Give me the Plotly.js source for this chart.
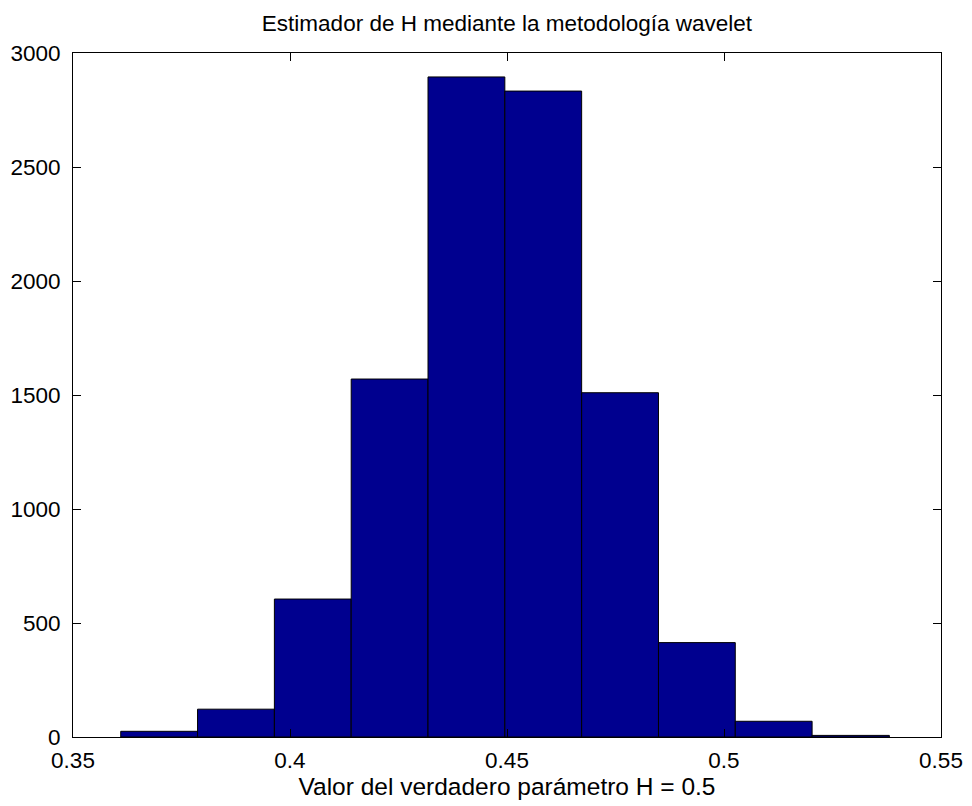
<!DOCTYPE html>
<html>
<head>
<meta charset="utf-8">
<script src="https://cdn.plot.ly/plotly-3.0.1.min.js"></script>
<style>html,body{margin:0;padding:0;background:#fff;}#chart{width:972px;height:806px;}</style>
</head>
<body>
<div id="chart"></div>
<script>
// Bin edges and counts per bin
const binEdges = [0.3610, 0.3787, 0.3964, 0.4141, 0.4318, 0.4495, 0.4672, 0.4849, 0.5026, 0.5203, 0.5381];
const counts = [25, 122, 605, 1570, 2895, 2833, 1510, 414, 69, 7];
const xTicks = [0.35, 0.4, 0.45, 0.5, 0.55];
const xTickLabels = ['0.35', '0.4', '0.45', '0.5', '0.55'];
const yTicks = [0, 500, 1000, 1500, 2000, 2500, 3000];
const yTickLabels = ['0', '500', '1000', '1500', '2000', '2500', '3000'];
const titleText = 'Estimador de H mediante la metodología wavelet';
const xTitle = 'Valor del verdadero parámetro H = 0.5';

const centers = [], widths = [];
for (let i = 0; i < counts.length; i++) {
  centers.push((binEdges[i] + binEdges[i + 1]) / 2);
  widths.push(binEdges[i + 1] - binEdges[i]);
}

const fam = 'Liberation Sans, Arial, sans-serif';
const tickFont = {family: fam, size: 22.5, color: '#000'};
const titleFont = {family: fam, size: 22.5, color: '#000'};
const labelFont = {family: fam, size: 24.5, color: '#000'};

const trace = {
  type: 'bar',
  x: centers,
  y: counts,
  width: widths,
  marker: {color: '#00008f', line: {color: '#000', width: 1}},
  hoverinfo: 'x+y'
};

const axisCommon = {
  showline: true, linecolor: '#000', linewidth: 1, mirror: 'ticks',
  ticks: 'inside', ticklen: 8, tickcolor: '#000', tickwidth: 1,
  showgrid: false, zeroline: false, tickfont: tickFont, automargin: false
};

const layout = {
  width: 972, height: 806,
  margin: {l: 73, r: 31, t: 53, b: 69},
  paper_bgcolor: '#fff', plot_bgcolor: '#fff',
  font: tickFont,
  showlegend: false,
  title: {text: titleText, font: titleFont, x: 0.5, xref: 'paper', xanchor: 'center', y: 1 - 23 / 806, yref: 'container', yanchor: 'middle'},
  xaxis: Object.assign({}, axisCommon, {
    range: [0.35, 0.55], tickmode: 'array', tickvals: xTicks, ticktext: xTickLabels,
    ticklabelstandoff: 3,
    title: {text: xTitle, font: labelFont, standoff: 5}
  }),
  yaxis: Object.assign({}, axisCommon, {
    range: [0, 3000], tickmode: 'array', tickvals: yTicks, ticktext: yTickLabels,
    ticklabelstandoff: 7
  }),
  bargap: 0
};

Plotly.newPlot('chart', [trace], layout, {displayModeBar: false, staticPlot: true});
</script>
</body>
</html>
